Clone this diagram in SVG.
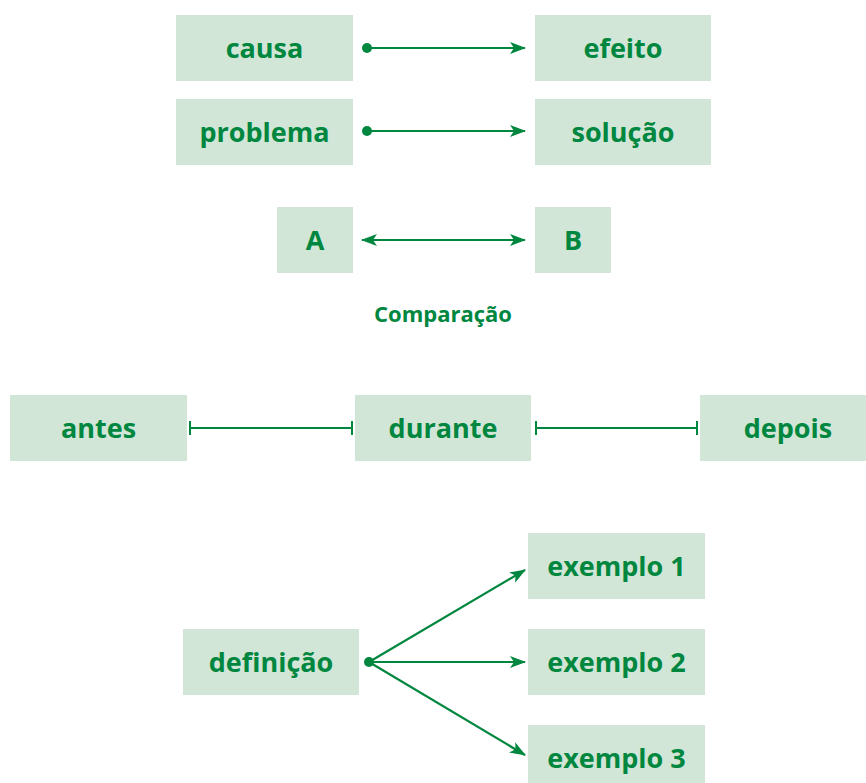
<svg xmlns="http://www.w3.org/2000/svg" width="866" height="783" viewBox="0 0 866 783">
<style>
.box{fill:#d1e6d7}
.t{font-family:"Open Sans","Liberation Sans",sans-serif;font-weight:bold;font-size:27px;fill:#00873f;text-anchor:middle}
.c{stroke:#00873f;stroke-width:2.2;fill:none}
</style>
<defs>
<marker id="ah" viewBox="0 0 16 12" refX="15" refY="6" markerWidth="16" markerHeight="12" markerUnits="userSpaceOnUse" orient="auto-start-reverse">
<path d="M0,0 L16,6 L0,12 L4,6 z" fill="#00873f"/>
</marker>
<marker id="dot" viewBox="0 0 12 12" refX="6" refY="6" markerWidth="12" markerHeight="12" markerUnits="userSpaceOnUse">
<circle cx="6" cy="6" r="5" fill="#00873f"/>
</marker>
<marker id="bar" viewBox="0 0 4 14" refX="2" refY="7" markerWidth="4" markerHeight="14" markerUnits="userSpaceOnUse" orient="auto">
<rect x="1" y="0" width="2" height="14" fill="#00873f"/>
</marker>
</defs>
<g id="causa"><rect class="box" x="176" y="15" width="177" height="66"/><text class="t" x="264.5" y="58">causa</text></g>
<g id="efeito"><rect class="box" x="535" y="15" width="176" height="66"/><text class="t" x="623" y="58">efeito</text></g>
<g id="problema"><rect class="box" x="176" y="99" width="177" height="66"/><text class="t" x="264.5" y="142">problema</text></g>
<g id="solucao"><rect class="box" x="535" y="99" width="176" height="66"/><text class="t" x="623" y="142">solução</text></g>
<g id="A"><rect class="box" x="277" y="207" width="76" height="66"/><text class="t" x="315" y="250">A</text></g>
<g id="B"><rect class="box" x="535" y="207" width="76" height="66"/><text class="t" x="573" y="250">B</text></g>
<g id="comparacao"><text class="t" x="443" y="322" style="font-size:22px">Comparação</text></g>
<g id="antes"><rect class="box" x="10" y="395" width="177" height="66"/><text class="t" x="98.5" y="438">antes</text></g>
<g id="durante"><rect class="box" x="355" y="395" width="176" height="66"/><text class="t" x="443" y="438">durante</text></g>
<g id="depois"><rect class="box" x="700" y="395" width="166" height="66"/><text class="t" x="788" y="438">depois</text></g>
<g id="definicao"><rect class="box" x="183" y="629" width="176" height="66"/><text class="t" x="271" y="672">definição</text></g>
<g id="exemplo1"><rect class="box" x="528" y="533" width="177" height="66"/><text class="t" x="616.5" y="576">exemplo 1</text></g>
<g id="exemplo2"><rect class="box" x="528" y="629" width="177" height="66"/><text class="t" x="616.5" y="672">exemplo 2</text></g>
<g id="exemplo3"><rect class="box" x="528" y="725" width="177" height="66"/><text class="t" x="616.5" y="768">exemplo 3</text></g>
<g id="connectors">
<line class="c" x1="367" y1="48" x2="525" y2="48" marker-start="url(#dot)" marker-end="url(#ah)"/>
<line class="c" x1="367" y1="131" x2="525" y2="131" marker-start="url(#dot)" marker-end="url(#ah)"/>
<line class="c" x1="362" y1="240" x2="525" y2="240" marker-start="url(#ah)" marker-end="url(#ah)"/>
<line class="c" x1="190" y1="428" x2="352" y2="428" marker-start="url(#bar)" marker-end="url(#bar)"/>
<line class="c" x1="536" y1="428" x2="697" y2="428" marker-start="url(#bar)" marker-end="url(#bar)"/>
<line class="c" x1="369" y1="662" x2="525" y2="570" marker-start="url(#dot)" marker-end="url(#ah)"/>
<line class="c" x1="369" y1="662" x2="525" y2="662" marker-end="url(#ah)"/>
<line class="c" x1="369" y1="662" x2="525" y2="755" marker-end="url(#ah)"/>
</g>
</svg>
